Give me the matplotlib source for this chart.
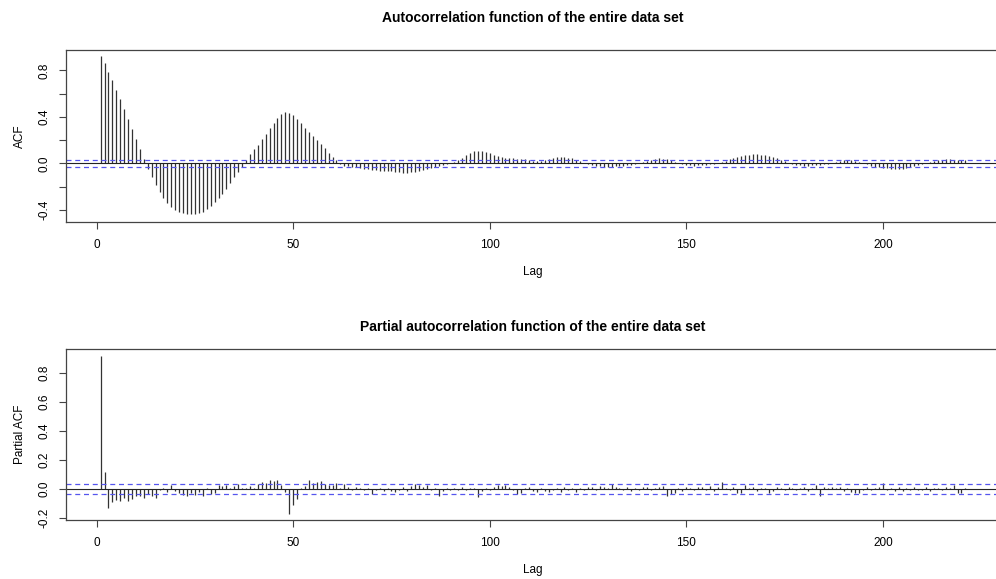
"""Gráfica de la ACF y la PACF de todo el conjunto de datos, al estilo de R."""

import numpy as np
import matplotlib
matplotlib.use("Agg")
import matplotlib.pyplot as plt

plt.rcParams['font.family'] = ['Liberation Sans', 'DejaVu Sans']

# Valores (lags 1..221)
acf_vals = [
    0.92, 0.86, 0.79, 0.72, 0.635, 0.555, 0.47, 0.385, 0.295, 0.205,
    0.12, 0.035, -0.045, -0.12, -0.19, -0.25, -0.30, -0.345, -0.38, -0.405,
    -0.42, -0.43, -0.437, -0.44, -0.437, -0.43, -0.417, -0.395, -0.37, -0.335,
    -0.30, -0.265, -0.22, -0.17, -0.12, -0.075, -0.035, 0.03, 0.077, 0.12,
    0.16, 0.21, 0.25, 0.30, 0.35, 0.39, 0.425, 0.44, 0.435, 0.415,
    0.38, 0.345, 0.305, 0.27, 0.235, 0.20, 0.163, 0.13, 0.09, 0.057,
    0.03, -0.01, -0.02, -0.025, -0.03, -0.035, -0.04, -0.045, -0.05, -0.055,
    -0.06, -0.062, -0.065, -0.068, -0.07, -0.075, -0.078, -0.08, -0.08, -0.078,
    -0.075, -0.07, -0.06, -0.05, -0.04, -0.03, -0.02, -0.012, -0.005, 0.005,
    0.015, 0.03, 0.05, 0.07, 0.09, 0.105, 0.11, 0.105, 0.095, 0.085,
    0.075, 0.065, 0.057, 0.05, 0.046, 0.042, 0.04, 0.037, 0.033, 0.028,
    0.022, 0.018, 0.022, 0.03, 0.038, 0.045, 0.052, 0.056, 0.055, 0.05,
    0.042, 0.03, 0.018, 0.005, -0.008, -0.015, -0.022, -0.027, -0.03, -0.03,
    -0.028, -0.025, -0.022, -0.02, -0.018, -0.012, -0.006, 0.002, 0.01, 0.02,
    0.03, 0.038, 0.042, 0.04, 0.035, 0.025, 0.012, 0.002, -0.008, -0.014,
    -0.018, -0.02, -0.018, -0.015, -0.012, -0.01, -0.005, 0.003, 0.012, 0.022,
    0.033, 0.045, 0.055, 0.063, 0.07, 0.075, 0.078, 0.078, 0.075, 0.07,
    0.062, 0.053, 0.042, 0.03, 0.018, 0.006, -0.005, -0.012, -0.018, -0.02,
    -0.02, -0.018, -0.015, -0.012, -0.008, -0.003, 0.005, 0.013, 0.02, 0.027,
    0.03, 0.028, 0.022, 0.012, 0.002, -0.01, -0.02, -0.028, -0.035, -0.04,
    -0.043, -0.046, -0.047, -0.047, -0.045, -0.04, -0.033, -0.025, -0.015, -0.005,
    0.005, 0.015, 0.022, 0.028, 0.032, 0.034, 0.034, 0.032, 0.03, 0.028,
    0.025,
]

pacf_vals = [
    0.92, 0.115, -0.13, -0.09, -0.075, -0.085, -0.06, -0.085, -0.07, -0.05,
    -0.045, -0.065, -0.035, -0.045, -0.06, -0.01, 0.01, -0.02, 0.025, -0.015,
    -0.025, -0.04, -0.05, -0.03, -0.04, -0.02, -0.045, 0.005, -0.035, -0.03,
    0.03, 0.02, 0.03, 0.01, 0.02, 0.035, 0.005, 0.01, 0.02, 0.01,
    0.035, 0.05, 0.045, 0.06, 0.055, 0.06, 0.03, -0.02, -0.17, -0.11,
    -0.07, 0.01, 0.02, 0.06, 0.04, 0.05, 0.055, 0.035, 0.03, 0.025,
    0.04, 0.01, 0.035, 0.015, -0.01, 0.012, 0.008, -0.005, 0.01, -0.035,
    -0.01, 0.01, -0.015, 0.005, -0.012, -0.018, -0.01, 0.012, -0.015, 0.02,
    0.035, 0.025, 0.015, 0.025, -0.01, 0.005, -0.045, -0.015, 0.01, -0.01,
    0.005, -0.008, 0.012, -0.01, 0.01, 0.005, -0.055, -0.012, 0.008, -0.005,
    0.012, 0.025, 0.02, 0.028, 0.015, -0.01, -0.035, -0.03, 0.01, 0.015,
    -0.012, -0.018, 0.01, -0.015, -0.02, -0.01, 0.008, -0.018, 0.012, -0.01,
    0.005, -0.02, 0.01, -0.005, 0.015, 0.012, -0.01, 0.02, 0.015, 0.01,
    0.035, 0.012, 0.008, -0.01, 0.012, -0.012, 0.01, -0.005, 0.012, 0.015,
    -0.01, 0.01, 0.015, 0.02, -0.045, -0.035, -0.025, 0.01, -0.012, 0.015,
    0.01, -0.008, 0.012, 0.015, -0.01, 0.02, -0.012, 0.015, 0.05, 0.01,
    -0.01, 0.012, -0.03, -0.025, 0.03, 0.01, 0.012, -0.015, 0.01, 0.008,
    -0.03, -0.015, 0.012, 0.01, -0.01, 0.012, 0.008, -0.01, 0.01, 0.012,
    -0.015, 0.01, 0.03, -0.045, 0.012, 0.01, 0.015, 0.01, 0.012, -0.012,
    0.01, -0.02, -0.03, -0.025, -0.01, 0.012, -0.008, 0.01, 0.012, 0.045,
    -0.01, 0.008, -0.015, 0.012, -0.012, 0.01, -0.01, 0.012, -0.008, -0.01,
    0.012, -0.015, 0.01, 0.01, -0.01, 0.012, 0.008, 0.03, -0.03, -0.025,
    0.005,
]

lags = np.arange(1, len(acf_vals) + 1)
ci = 0.032  # banda de confianza 1.96/sqrt(N)

fig = plt.figure(figsize=(9.96, 5.79), dpi=100)
ax1 = fig.add_axes([66/996, 1 - 222/579, 934/996, 172/579])
ax2 = fig.add_axes([66/996, 1 - 520/579, 934/996, 170.7/579])


def estilo_r(ax, yticks, ylabels, ylim, ylab):
	ax.set_xlim(-7.8, 229.8)
	ax.set_ylim(*ylim)
	ax.set_xticks([0, 50, 100, 150, 200])
	ax.set_yticks(yticks)
	ax.set_yticklabels(ylabels)
	ax.tick_params(direction='out', length=5, width=0.8, color='#444444',
	               labelsize=8.5)
	ax.tick_params(axis='x', pad=7)
	ax.tick_params(axis='y', pad=6)
	plt.setp(ax.get_yticklabels(), rotation=90, va='center')
	for s in ax.spines.values():
		s.set_color('#444444')
		s.set_linewidth(0.9)
	ax.set_xlabel('Lag', fontsize=8.5, labelpad=11)
	ax.set_ylabel(ylab, fontsize=8.5, labelpad=9)


def graficar(ax, vals):
	ax.vlines(lags, 0, vals, color='#333333', linewidth=0.9)
	ax.axhline(0, color='#222222', linewidth=0.8)
	ax.axhline(ci, color='#5555ee', linewidth=0.9, linestyle=(0, (4, 3)))
	ax.axhline(-ci, color='#5555ee', linewidth=0.9, linestyle=(0, (4, 3)))


graficar(ax1, acf_vals)
estilo_r(ax1, [-0.4, -0.2, 0.0, 0.2, 0.4, 0.6, 0.8],
         ['-0.4', '', '0.0', '', '0.4', '', '0.8'], (-0.505, 0.975), 'ACF')

graficar(ax2, pacf_vals)
estilo_r(ax2, [-0.2, 0.0, 0.2, 0.4, 0.6, 0.8],
         ['-0.2', '0.0', '0.2', '0.4', '0.6', '0.8'], (-0.2136, 0.9636),
         'Partial ACF')

fig.text(533/996, 1 - 18/579, 'Autocorrelation function of the entire data set',
         ha='center', va='center', fontsize=10, fontweight='bold')
fig.text(533/996, 1 - 327/579, 'Partial autocorrelation function of the entire data set',
         ha='center', va='center', fontsize=10, fontweight='bold')

fig.savefig('out.png', dpi=100)
